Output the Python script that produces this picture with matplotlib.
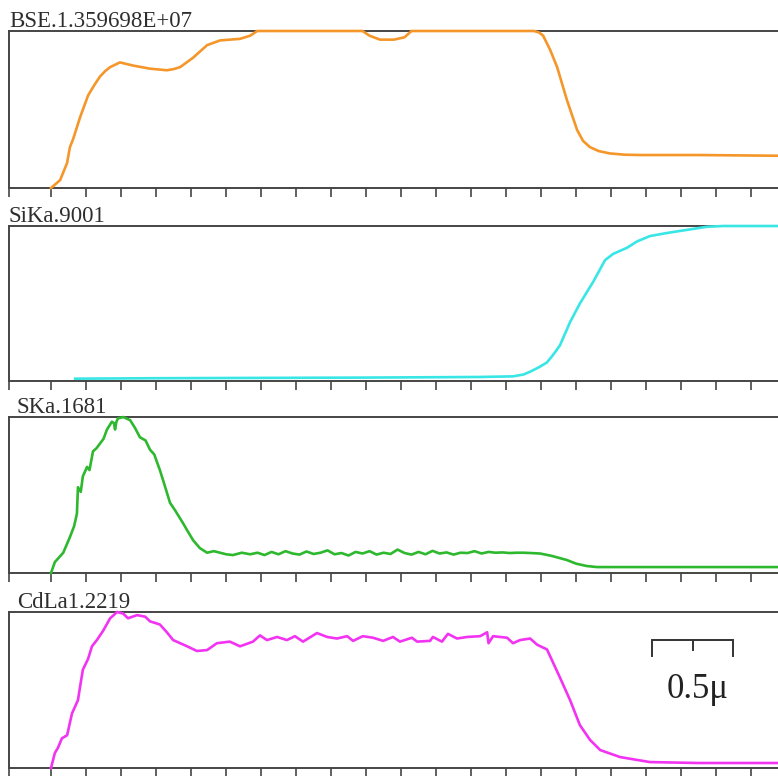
import matplotlib
matplotlib.use('Agg')
import matplotlib.pyplot as plt

# ---- line scan data (x in tick units, y normalised to panel height) ----
bse_label = 'BSE.1.359698E+07'
bse_x = [0, 0.26, 0.46, 0.54, 0.63, 0.83, 1.06, 1.25, 1.4, 1.55, 1.69, 1.97,
	2.34, 2.83, 3.31, 3.5, 3.69, 4.06, 4.46, 4.83, 5.4, 5.69, 5.89, 6.2, 8.9,
	9.1, 9.4, 9.8, 10.1, 10.3, 10.5, 13.8, 13.95, 14.06, 14.26, 14.46, 14.74,
	15.03, 15.2, 15.4, 15.65, 15.97, 16.4, 16.83, 18.5, 21]
bse_y = [0, 0.05, 0.16, 0.26, 0.31, 0.45, 0.59, 0.66, 0.71, 0.745, 0.77, 0.80,
	0.78, 0.76, 0.75, 0.757, 0.77, 0.83, 0.91, 0.94, 0.95, 0.97, 1.0, 1.0, 1.0,
	0.97, 0.945, 0.945, 0.96, 1.0, 1.0, 1.0, 0.99, 0.97, 0.88, 0.77, 0.56,
	0.37, 0.30, 0.26, 0.235, 0.22, 0.212, 0.21, 0.21, 0.205]

sika_label = 'SiKa.9001'
sika_x = [0.69, 3, 6, 9, 12.26, 13.2, 13.5, 13.69, 13.95, 14.17, 14.35, 14.54,
	14.83, 15.11, 15.49, 15.83, 16.06, 16.46, 16.74, 17.11, 17.6, 18.17,
	18.74, 19.2, 21]
sika_y = [0.015, 0.018, 0.02, 0.022, 0.026, 0.03, 0.042, 0.06, 0.09, 0.12,
	0.17, 0.23, 0.38, 0.50, 0.64, 0.78, 0.82, 0.86, 0.90, 0.935, 0.955, 0.975,
	0.995, 1.0, 1.0]

ska_label = 'SKa.1681'
ska_x = [0, 0.11, 0.35, 0.54, 0.66, 0.74, 0.77, 0.85, 0.91, 1.03, 1.1, 1.2,
	1.3, 1.4, 1.5, 1.6, 1.74, 1.8, 1.83, 1.87, 1.91, 2.06, 2.26, 2.4, 2.54,
	2.7, 2.83, 2.95, 3.11, 3.25, 3.4, 3.55, 3.77, 3.9, 4.06, 4.25, 4.46, 4.65,
	4.83, 5.0, 5.2, 5.45, 5.69,
	5.9, 6.1, 6.3, 6.5, 6.7, 6.9, 7.1, 7.3, 7.5, 7.7, 7.9, 8.1, 8.3, 8.5, 8.7,
	8.9, 9.1, 9.3, 9.5, 9.7, 9.9, 10.1, 10.3, 10.5, 10.7, 10.9, 11.1, 11.3,
	11.5, 11.7, 11.9, 12.1, 12.3, 12.5, 12.7, 12.9, 13.1, 13.3, 13.5, 13.7,
	13.97, 14.3, 14.74, 15.0, 15.3, 15.6, 17, 21]
ska_y = [0, 0.07, 0.13, 0.23, 0.30, 0.38, 0.55, 0.52, 0.62, 0.68, 0.66, 0.78,
	0.80, 0.83, 0.86, 0.92, 0.97, 0.96, 0.92, 0.97, 0.99, 1.0, 0.98, 0.93, 0.87,
	0.85, 0.79, 0.76, 0.66, 0.56, 0.45, 0.40, 0.32, 0.27, 0.21, 0.16, 0.13, 0.14,
	0.13, 0.12, 0.115, 0.13, 0.12,
	0.13, 0.115, 0.135, 0.12, 0.14, 0.125, 0.118, 0.138, 0.122, 0.13, 0.145,
	0.12, 0.128, 0.112, 0.135, 0.125, 0.14, 0.118, 0.13, 0.122, 0.15, 0.128,
	0.118, 0.135, 0.12, 0.142, 0.125, 0.132, 0.118, 0.13, 0.128, 0.14, 0.125,
	0.135, 0.13, 0.132, 0.128, 0.13, 0.13, 0.128,
	0.125, 0.11, 0.083, 0.06, 0.045, 0.038, 0.038, 0.038]

cdla_label = 'CdLa1.2219'
cdla_x = [0, 0.11, 0.2, 0.31, 0.46, 0.6, 0.7, 0.77, 0.83, 0.91, 1.06, 1.17,
	1.31, 1.49, 1.69, 1.89, 2.06, 2.2, 2.46, 2.69, 2.83, 3.11, 3.31, 3.49, 3.89,
	4.17, 4.46, 4.74, 5.11, 5.4, 5.77, 5.97,
	6.17, 6.46, 6.74, 6.97, 7.2, 7.6, 7.89, 8.17, 8.46, 8.63, 8.91, 9.2, 9.49,
	9.77, 9.97, 10.31, 10.46, 10.83, 10.91, 11.17, 11.34, 11.6, 11.89, 12.26,
	12.46, 12.5, 12.63, 13.03, 13.2, 13.4, 13.69, 13.89, 14.17, 14.54, 14.83,
	15.11, 15.4, 15.69, 16.26, 17.11, 18.5, 21]
cdla_y = [0, 0.096, 0.13, 0.19, 0.21, 0.35, 0.40, 0.435, 0.52, 0.63, 0.70,
	0.78, 0.82, 0.88, 0.96, 1.0, 0.99, 0.96, 0.98, 0.97, 0.94, 0.92, 0.87, 0.82,
	0.78, 0.75, 0.756, 0.80, 0.81, 0.78, 0.81, 0.85,
	0.82, 0.84, 0.82, 0.845, 0.81, 0.865, 0.84, 0.83, 0.845, 0.815, 0.845,
	0.835, 0.815, 0.84, 0.81, 0.835, 0.81, 0.815, 0.84, 0.81, 0.86, 0.83, 0.84,
	0.845, 0.87, 0.80, 0.845, 0.835, 0.80, 0.82, 0.83, 0.79, 0.76, 0.58, 0.435,
	0.275, 0.18, 0.115, 0.07, 0.038, 0.032, 0.032]

# scale bar (0.5 micron) drawn in the last panel
scale_x = [17.17, 18.33, 19.49]
scale_text = '0.5\u03bc'


def main():
	fig = plt.figure(figsize=(7.78, 7.76), dpi=100)
	W, H = 778.0, 776.0

	# (top px, bottom px, label, label x offset px, x, y, colour)
	panels = [
		(31, 188, bse_label, 0, bse_x, bse_y, '#F5962A'),
		(226, 381, sika_label, 0, sika_x, sika_y, '#38E6E6'),
		(417, 573, ska_label, 8, ska_x, ska_y, '#2EB82E'),
		(612, 768, cdla_label, 8, cdla_x, cdla_y, '#F233F2'),
	]

	spine_col = '#454545'
	axes = []
	for top, bot, label, dx, xs, ys, col in panels:
		ax = fig.add_axes([9 / W, 1 - bot / H, 1 - 9 / W, (bot - top) / H])
		ax.plot(xs, ys, color=col, linewidth=1.9, clip_on=False, zorder=3,
			solid_joinstyle='round')
		ax.set_xlim(-1.2, 20.77)
		ax.set_ylim(0, 1)
		ax.spines['right'].set_visible(False)
		for s in ['left', 'top', 'bottom']:
			ax.spines[s].set_color(spine_col)
			ax.spines[s].set_linewidth(1.4)
		ax.set_xticks([-1.2] + list(range(0, 21)))
		ax.set_xticklabels([])
		ax.set_yticks([])
		ax.tick_params(axis='x', direction='out', length=6.5, width=1.2,
			color=spine_col)
		ax.annotate(label, xy=(0, 1), xycoords='axes fraction',
			xytext=(dx, 4), textcoords='offset pixels',
			ha='left', va='baseline', fontsize=16.5,
			family='Liberation Serif', color='#2e2e2e')
		axes.append(ax)

	ax = axes[-1]
	ax.plot([scale_x[0], scale_x[0], scale_x[2], scale_x[2]],
		[0.718, 0.82, 0.82, 0.718], color='#333333', linewidth=1.4,
		solid_joinstyle='miter')
	ax.plot([scale_x[1], scale_x[1]], [0.82, 0.756], color='#333333',
		linewidth=1.4)
	ax.text(18.46, 0.5, scale_text, ha='center', va='center', fontsize=25,
		family='Liberation Serif', color='#222222')

	fig.savefig('out.png', dpi=100)


if __name__ == '__main__':
	main()
